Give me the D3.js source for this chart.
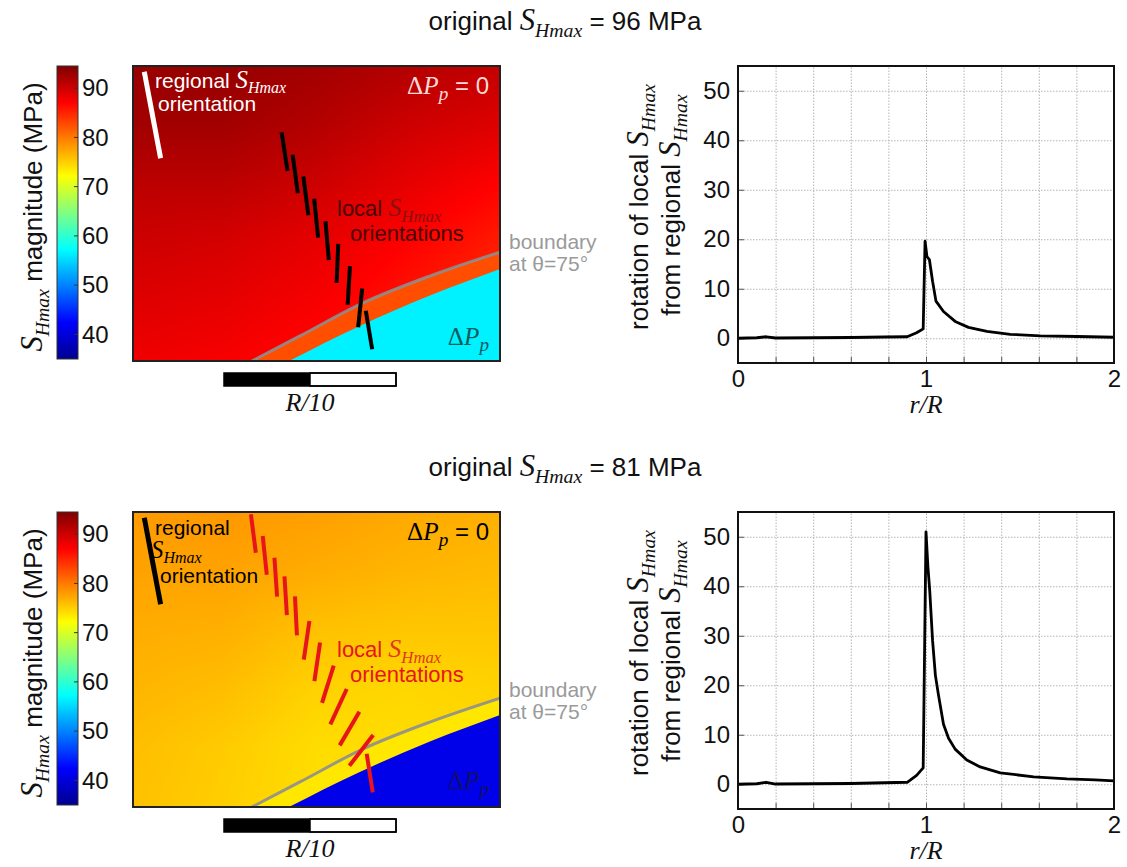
<!DOCTYPE html>
<html><head><meta charset="utf-8">
<script src="https://cdn.jsdelivr.net/npm/d3@7"></script>
<style>body{margin:0;background:#fff} svg{display:block}</style>
</head><body>
<svg id="chart" width="1127" height="867"></svg>
<script>
// ---------------- DATA ----------------
const originalSHmax = [96, 81];
const cbarDomain = [35, 94.5];
const cbarTicks = [40, 50, 60, 70, 80, 90];
const xTickLabels = [0, 1, 2];
const yTickLabels = [0, 10, 20, 30, 40, 50];
const xGridValues = [0.2, 0.4, 0.6, 0.8, 1.0, 1.2, 1.4, 1.6, 1.8];
const yGridValues = [0, 10, 20, 30, 40, 50];

// rotation of local SHmax (deg) vs r/R
const rTop   = [0, 0.1, 0.15, 0.2, 0.4, 0.6, 0.78, 0.9, 0.95, 0.985, 0.995, 1.005, 1.018, 1.035, 1.053, 1.093, 1.155, 1.226, 1.324, 1.448, 1.609, 1.804, 2.0];
const rotTop = [0, 0.1, 0.3, 0.05, 0.1, 0.15, 0.25, 0.3, 1.1, 1.9, 19.6, 16.5, 15.9, 11.5, 7.5, 5.4, 3.4, 2.2, 1.4, 0.8, 0.5, 0.35, 0.2];
const rBot   = [0, 0.1, 0.15, 0.2, 0.4, 0.6, 0.78, 0.9, 0.95, 0.985, 1.0, 1.01, 1.02, 1.035, 1.05, 1.066, 1.093, 1.12, 1.155, 1.217, 1.288, 1.395, 1.573, 1.75, 1.9, 2.0];
const rotBot = [0, 0.1, 0.4, 0.05, 0.1, 0.15, 0.3, 0.4, 1.8, 3.3, 51, 44, 39, 29, 22, 18.1, 12.1, 9.3, 7.1, 4.9, 3.5, 2.3, 1.5, 1.1, 0.9, 0.7];

// SHmax magnitude field (MPa) sampled on a coarse grid of the map (map units 0-100)
const fieldX = [0, 25, 50, 75, 100];
const fieldY = [0, 20, 40, 60, 80, 100];
const fieldTop = [
  [93.0, 93.2, 92.5, 91.5, 90.5],
  [92.5, 92.5, 91.5, 90.0, 89.0],
  [91.0, 91.0, 90.0, 88.5, 87.0],
  [90.0, 89.5, 88.5, 87.0, 85.5],
  [89.0, 88.5, 87.5, 86.0, 84.5],
  [88.0, 87.5, 86.5, 85.0, 84.0]];
const fieldBot = [
  [78.0, 78.2, 77.8, 77.2, 76.8],
  [77.6, 77.6, 77.0, 76.5, 76.2],
  [77.0, 76.8, 75.8, 75.5, 75.5],
  [76.5, 76.0, 74.8, 74.5, 74.8],
  [76.0, 75.2, 74.2, 74.2, 74.5],
  [75.8, 75.0, 74.2, 74.0, 74.2]];
const bandValue = [82.5, 73.6];     // between boundary and ΔPp zone
const zoneValue = [56.5, 41.0];     // ΔPp zone

// boundary at θ=75° and edge of ΔPp zone (map units)
const boundaryX = [32.4, 45.5, 62.7, 80.9, 100];
const boundaryY = [100, 91.5, 80.3, 71.2, 63.1];
const zoneEdgeX = [42.5, 61.5, 80.9, 100];
const zoneEdgeY = [100, 88.3, 77.8, 68.8];

// regional orientation (map units, degrees from vertical)
const regionalX = 5.3, regionalY = 16.6, regionalAngle = 10.7;
// local orientations
const localTopX = [41.3, 44.2, 47.1, 49.9, 52.9, 55.7, 58.8, 61.9, 64.3];
const localTopY = [29.0, 36.6, 44.0, 51.6, 59.2, 66.9, 74.4, 82.0, 89.5];
const localTopA = [8.8, 7.6, 7.4, 5.9, 5.0, -2.4, -3.4, -5.9, 9.4];
const localBotX = [32.8, 35.9, 38.9, 41.6, 44.4, 47.3, 50.2, 53.1, 56.0, 59.0, 62.2, 64.5];
const localBotY = [7.3, 14.7, 22.1, 28.4, 35.2, 43.5, 50.8, 58.4, 66.0, 73.4, 80.8, 88.5];
const localBotA = [7.3, 6.0, 3.9, 3.5, 2.9, -8.3, -8.4, -17.4, -24.9, -30.3, -37.7, 8.9];

// ---------------- SETUP ----------------
const SANS = "'Liberation Sans', Arial, sans-serif";
const SERIF = "'Liberation Serif', 'Times New Roman', serif";
const svg = d3.select("#chart").style("font-family", SANS);
const defs = svg.append("defs");
const jet = d3.scaleLinear()
  .domain([0, 0.125, 0.375, 0.625, 0.875, 1])
  .range(["#00008f", "#0000ff", "#00ffff", "#ffff00", "#ff0000", "#800000"])
  .clamp(true);
const norm = d3.scaleLinear().domain(cbarDomain).range([0, 1]);
const colorOf = v => jet(norm(v));

function rich(textSel, parts, size) {
  let shift = 0;
  parts.forEach(p => {
    const ts = textSel.append("tspan").text(p.t)
      .attr("font-family", p.serif ? SERIF : SANS)
      .attr("font-style", p.italic ? "italic" : "normal")
      .attr("font-size", size * (p.scale || 1));
    const target = p.sub ? size * 0.25 : 0;
    if (target !== shift) { ts.attr("dy", target - shift); shift = target; }
  });
}
const S_H = [{t: "S", serif: true, italic: true, scale: 1.18}, {t: "Hmax", serif: true, italic: true, scale: 0.76, sub: true}];
const DP = [{t: "Δ", serif: true, scale: 1.05}, {t: "P", serif: true, italic: true, scale: 1.05}, {t: "p", serif: true, italic: true, scale: 0.8, sub: true}];

function fieldAt(grid, xn, yn) {
  const i = Math.min(fieldX.length - 2, Math.max(0, d3.bisectRight(fieldX, xn) - 1));
  const j = Math.min(fieldY.length - 2, Math.max(0, d3.bisectRight(fieldY, yn) - 1));
  const tx = (xn - fieldX[i]) / (fieldX[i + 1] - fieldX[i]);
  const ty = (yn - fieldY[j]) / (fieldY[j + 1] - fieldY[j]);
  const a = grid[j][i] * (1 - tx) + grid[j][i + 1] * tx;
  const b = grid[j + 1][i] * (1 - tx) + grid[j + 1][i + 1] * tx;
  return a * (1 - ty) + b * ty;
}

const panels = [
  {dy: 0, field: fieldTop, regColor: "#ffffff", segColor: "#000000",
   lx: localTopX, ly: localTopY, la: localTopA, rX: rTop, rY: rotTop,
   dp0Color: "#ffd8d8", localColor: "#4a0000", localSColor: "#8a1010", dpColor: "#0c5c60",
   regLines: [[{t: "regional "}, ...S_H], [{t: "orientation"}]], regPos: [[155, 88], [158, 111]],
   localPos: [[337, 216], [350, 241]], dp0Y: 94, dpY: 345, bndY: [249, 271]},
  {dy: 446, field: fieldBot, regColor: "#000000", segColor: "#e8141c",
   lx: localBotX, ly: localBotY, la: localBotA, rX: rBot, rY: rotBot,
   dp0Color: "#000000", localColor: "#e8141c", localSColor: "#e03a1a", dpColor: "#10106a",
   regLines: [[{t: "regional"}], [...S_H], [{t: "orientation"}]], regPos: [[155, 89], [151, 112], [160, 137]],
   localPos: [[337, 211], [350, 236]], dp0Y: 94, dpY: 343, bndY: [251, 273]}
];

panels.forEach((P, pi) => {
  const g = svg.append("g").attr("transform", `translate(0,${P.dy})`);

  // ----- title -----
  const tt = g.append("text").attr("x", 565).attr("y", 30).attr("text-anchor", "middle").attr("fill", "#111");
  rich(tt, [{t: "original "}, ...S_H, {t: ` = ${originalSHmax[pi]} MPa`}], 26);

  // ----- colorbar -----
  const cb = {x: 57, w: 21, y0: 66, y1: 359};
  const cbY = d3.scaleLinear().domain(cbarDomain).range([cb.y1, cb.y0]);
  const gid = "jetgrad" + pi;
  const grad = defs.append("linearGradient").attr("id", gid)
    .attr("x1", 0).attr("y1", 1).attr("x2", 0).attr("y2", 0);
  d3.range(0, 1.0001, 0.0625).forEach(t => grad.append("stop").attr("offset", t).attr("stop-color", jet(t)));
  g.append("rect").attr("x", cb.x).attr("y", cb.y0).attr("width", cb.w).attr("height", cb.y1 - cb.y0)
    .attr("fill", `url(#${gid})`).attr("stroke", "#333").attr("stroke-width", 1);
  g.selectAll(".cbtick").data(cbarTicks).join("line")
    .attr("x1", cb.x + cb.w - 4).attr("x2", cb.x + cb.w).attr("y1", d => cbY(d)).attr("y2", d => cbY(d))
    .attr("stroke", "#333").attr("stroke-width", 1);
  const cbAxis = g.append("g").attr("transform", `translate(${cb.x + cb.w},0)`)
    .call(d3.axisRight(cbY).tickValues(cbarTicks).tickSize(0).tickPadding(4));
  cbAxis.select(".domain").remove();
  cbAxis.selectAll("text").attr("font-size", 24).attr("font-family", SANS).attr("fill", "#111");
  const cbt = g.append("text").attr("transform", `translate(42,217) rotate(-90)`).attr("text-anchor", "middle").attr("fill", "#111");
  rich(cbt, [...S_H, {t: " magnitude (MPa)"}], 26);

  // ----- map -----
  const M = {x0: 133, x1: 500, y0: 66, y1: 361};
  const mx = d3.scaleLinear().domain([0, 100]).range([M.x0, M.x1]);
  const my = d3.scaleLinear().domain([0, 100]).range([M.y0, M.y1]);
  const W = M.x1 - M.x0, H = M.y1 - M.y0;
  const cv = document.createElement("canvas"); cv.width = W; cv.height = H;
  const ctx = cv.getContext("2d"); const img = ctx.createImageData(W, H);
  for (let j = 0; j < H; j++) for (let i = 0; i < W; i++) {
    const v = fieldAt(P.field, mx.invert(M.x0 + i + 0.5), my.invert(M.y0 + j + 0.5));
    const c = d3.rgb(colorOf(v)); const k = 4 * (j * W + i);
    img.data[k] = c.r; img.data[k + 1] = c.g; img.data[k + 2] = c.b; img.data[k + 3] = 255;
  }
  ctx.putImageData(img, 0, 0);
  const clipId = "mapclip" + pi;
  g.append("clipPath").attr("id", clipId).append("rect").attr("x", M.x0).attr("y", M.y0).attr("width", W).attr("height", H);
  const mg = g.append("g").attr("clip-path", `url(#${clipId})`);
  mg.append("image").attr("x", M.x0).attr("y", M.y0).attr("width", W).attr("height", H)
    .attr("preserveAspectRatio", "none").attr("href", cv.toDataURL());
  const bnd = boundaryX.map((x, i) => [x, boundaryY[i]]);
  const zne = zoneEdgeX.map((x, i) => [x, zoneEdgeY[i]]);
  const area = d3.area().x(d => mx(d[0])).y0(my(100)).y1(d => my(d[1])).curve(d3.curveMonotoneX);
  mg.append("path").datum(bnd).attr("d", area).attr("fill", colorOf(bandValue[pi]));
  mg.append("path").datum(zne).attr("d", area).attr("fill", colorOf(zoneValue[pi]));
  mg.append("path").datum(bnd).attr("d", d3.line().x(d => mx(d[0])).y(d => my(d[1])).curve(d3.curveMonotoneX))
    .attr("fill", "none").attr("stroke", "#8e8e8e").attr("stroke-opacity", 0.9).attr("stroke-width", 3);
  // orientation segments
  const seg = (cx, cy, a, L) => {
    const r = a * Math.PI / 180, dx = Math.sin(r) * L / 2, dy = Math.cos(r) * L / 2;
    return [mx(cx) - dx, my(cy) - dy, mx(cx) + dx, my(cy) + dy];
  };
  const locals = P.lx.map((x, i) => seg(x, P.ly[i], P.la[i], 39));
  mg.selectAll(".loc").data(locals).join("line")
    .attr("x1", d => d[0]).attr("y1", d => d[1]).attr("x2", d => d[2]).attr("y2", d => d[3])
    .attr("stroke", P.segColor).attr("stroke-width", 4);
  const rs = seg(regionalX, regionalY, regionalAngle, 88);
  mg.append("line").attr("x1", rs[0]).attr("y1", rs[1]).attr("x2", rs[2]).attr("y2", rs[3])
    .attr("stroke", P.regColor).attr("stroke-width", 5);
  g.append("rect").attr("x", M.x0).attr("y", M.y0).attr("width", W).attr("height", H)
    .attr("fill", "none").attr("stroke", "#222").attr("stroke-width", 2);

  // map labels
  P.regLines.forEach((parts, k) => {
    const t = g.append("text").attr("x", P.regPos[k][0]).attr("y", P.regPos[k][1]).attr("fill", P.regColor);
    rich(t, parts, 21);
  });
  const dp0 = g.append("text").attr("x", 489).attr("y", P.dp0Y).attr("text-anchor", "end").attr("fill", P.dp0Color);
  rich(dp0, [...DP, {t: " = 0"}], 24);
  const l1 = g.append("text").attr("x", P.localPos[0][0]).attr("y", P.localPos[0][1]).attr("fill", P.localColor);
  rich(l1, [{t: "local "}], 22);
  const sh = l1.append("tspan").attr("fill", P.localSColor);
  rich(sh, S_H, 22);
  g.append("text").attr("x", P.localPos[1][0]).attr("y", P.localPos[1][1]).attr("fill", P.localColor)
    .attr("font-size", 22).text("orientations");
  const dp = g.append("text").attr("x", 489).attr("y", P.dpY).attr("text-anchor", "end").attr("fill", P.dpColor);
  rich(dp, DP, 24);
  g.append("text").attr("x", 509).attr("y", P.bndY[0]).attr("fill", "#9a9a9a").attr("font-size", 21).text("boundary");
  g.append("text").attr("x", 509).attr("y", P.bndY[1]).attr("fill", "#9a9a9a").attr("font-size", 21).text("at θ=75°");

  // scale bar
  g.append("rect").attr("x", 224).attr("y", 373).attr("width", 86).attr("height", 13).attr("fill", "#000");
  g.append("rect").attr("x", 310).attr("y", 373).attr("width", 86).attr("height", 13).attr("fill", "#fff")
    .attr("stroke", "#000").attr("stroke-width", 1.5);
  g.append("rect").attr("x", 224).attr("y", 373).attr("width", 172).attr("height", 13).attr("fill", "none")
    .attr("stroke", "#000").attr("stroke-width", 1.5);
  g.append("text").attr("x", 310).attr("y", 411).attr("text-anchor", "middle").attr("font-family", SERIF)
    .attr("font-style", "italic").attr("font-size", 26).attr("fill", "#111").text("R/10");

  // ----- line chart -----
  const C = {x0: 738, x1: 1114, y0: 66, y1: 363};
  const x = d3.scaleLinear().domain([0, 2]).range([C.x0, C.x1]);
  const y = d3.scaleLinear().domain([-5, 55]).range([C.y1, C.y0]);
  const gx = g.append("g").attr("transform", `translate(0,${C.y1})`)
    .call(d3.axisBottom(x).tickValues(xGridValues).tickSize(-(C.y1 - C.y0)).tickFormat(""));
  const gy = g.append("g").attr("transform", `translate(${C.x0},0)`)
    .call(d3.axisLeft(y).tickValues(yGridValues).tickSize(-(C.x1 - C.x0)).tickFormat(""));
  [gx, gy].forEach(a => { a.select(".domain").remove(); a.selectAll("line").attr("stroke", "#b4b4b4").attr("stroke-dasharray", "1.5,1.5"); });
  // small inward ticks
  g.append("g").attr("transform", `translate(0,${C.y1})`)
    .call(d3.axisBottom(x).tickValues(xGridValues).tickSize(-6).tickFormat(""))
    .call(a => a.select(".domain").remove()).selectAll("line").attr("stroke", "#555");
  g.append("g").attr("transform", `translate(${C.x0},0)`)
    .call(d3.axisLeft(y).tickValues(yGridValues).tickSize(-6).tickFormat(""))
    .call(a => a.select(".domain").remove()).selectAll("line").attr("stroke", "#555");
  const ax = g.append("g").attr("transform", `translate(0,${C.y1})`)
    .call(d3.axisBottom(x).tickValues(xTickLabels).tickSize(0).tickPadding(7).tickFormat(d3.format("d")));
  const ay = g.append("g").attr("transform", `translate(${C.x0},0)`)
    .call(d3.axisLeft(y).tickValues(yTickLabels).tickSize(0).tickPadding(8));
  [ax, ay].forEach(a => { a.select(".domain").remove(); a.selectAll("text").attr("font-size", 24).attr("font-family", SANS).attr("fill", "#111"); });
  const cid = "chartclip" + pi;
  g.append("clipPath").attr("id", cid).append("rect").attr("x", C.x0).attr("y", C.y0).attr("width", C.x1 - C.x0).attr("height", C.y1 - C.y0);
  g.append("path").datum(P.rX.map((r, i) => [r, P.rY[i]]))
    .attr("clip-path", `url(#${cid})`)
    .attr("d", d3.line().x(d => x(d[0])).y(d => y(d[1])))
    .attr("fill", "none").attr("stroke", "#000").attr("stroke-width", 2.8).attr("stroke-linejoin", "round");
  g.append("rect").attr("x", C.x0).attr("y", C.y0).attr("width", C.x1 - C.x0).attr("height", C.y1 - C.y0)
    .attr("fill", "none").attr("stroke", "#111").attr("stroke-width", 2);
  g.append("text").attr("x", x(1)).attr("y", 413).attr("text-anchor", "middle").attr("font-family", SERIF)
    .attr("font-style", "italic").attr("font-size", 26).attr("fill", "#111").text("r/R");
  const yt1 = g.append("text").attr("transform", `translate(648,207) rotate(-90)`).attr("text-anchor", "middle").attr("fill", "#111");
  rich(yt1, [{t: "rotation of local "}, ...S_H], 26);
  const yt2 = g.append("text").attr("transform", `translate(680,205) rotate(-90)`).attr("text-anchor", "middle").attr("fill", "#111");
  rich(yt2, [{t: "from regional "}, ...S_H], 26);
});
</script>
</body></html>
